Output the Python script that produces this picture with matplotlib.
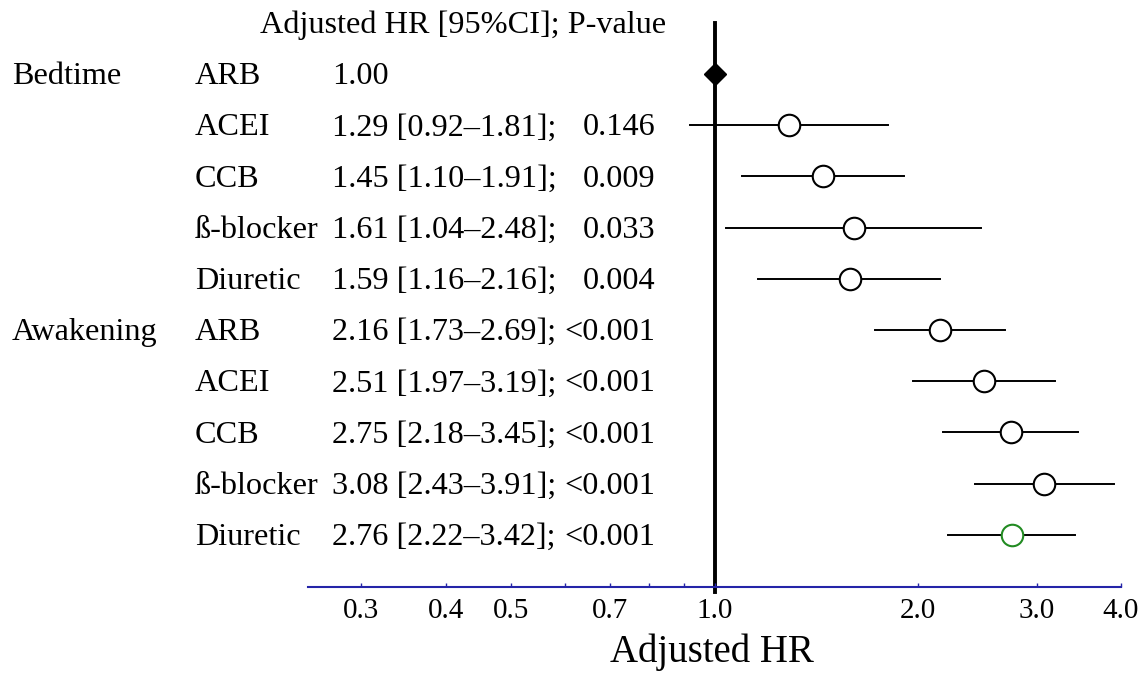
import matplotlib
matplotlib.use("Agg")
import matplotlib.pyplot as plt
import matplotlib.transforms as mtransforms
from matplotlib.ticker import NullFormatter

plt.rcParams['font.family'] = ['Liberation Serif', 'DejaVu Serif']

# data
groups = ['Bedtime', '', '', '', '', 'Awakening', '', '', '', '']
drugs = ['ARB', 'ACEI', 'CCB', 'ß-blocker', 'Diuretic',
         'ARB', 'ACEI', 'CCB', 'ß-blocker', 'Diuretic']
hr = [1.00, 1.29, 1.45, 1.61, 1.59, 2.16, 2.51, 2.75, 3.08, 2.76]
lo = [None, 0.92, 1.10, 1.04, 1.16, 1.73, 1.97, 2.18, 2.43, 2.22]
hi = [None, 1.81, 1.91, 2.48, 2.16, 2.69, 3.19, 3.45, 3.91, 3.42]
pvals = ['', '0.146', '0.009', '0.033', '0.004',
         '<0.001', '<0.001', '<0.001', '<0.001', '<0.001']
tick_vals = [0.3, 0.4, 0.5, 0.7, 1.0, 2.0, 3.0, 4.0]
tick_labels = ['0.3', '0.4', '0.5', '0.7', '1.0', '2.0', '3.0', '4.0']
minor_vals = [0.6, 0.8, 0.9]

W, H = 1146, 674
fig = plt.figure(figsize=(W / 100, H / 100), dpi=100)
ax = fig.add_axes([308 / W, (H - 587) / H, 813 / W, 587 / H])
ax.set_xscale('log')
ax.set_xlim(0.25, 4.0)
ax.set_ylim(10.02, -1.445)

axis_blue = '#2424a8'
fs = 23.2
yoff = 0.2  # baseline offset so caps sit centred on the row

for i in range(len(hr)):
    if lo[i] is None:
        ax.plot(hr[i], i, marker='D', ms=11.5, color='black', zorder=4)
        continue
    ax.plot([lo[i], hi[i]], [i, i], color='black', lw=1.4, zorder=2)
    edge = 'forestgreen' if i == len(hr) - 1 else 'black'
    ax.plot(hr[i], i, marker='o', ms=15.5, mfc='white', mec=edge, mew=1.5, zorder=3)

# reference line at HR = 1
ax.plot([1, 1], [10.12, -1.0], color='black', lw=2.8, zorder=1, clip_on=False)

for s in ['top', 'left', 'right']:
    ax.spines[s].set_visible(False)
ax.spines['bottom'].set_color(axis_blue)
ax.spines['bottom'].set_linewidth(1.5)
ax.set_yticks([])
ax.set_xticks(tick_vals)
ax.set_xticklabels(tick_labels, fontsize=21)
ax.set_xticks(minor_vals, minor=True)
ax.xaxis.set_minor_formatter(NullFormatter())
ax.tick_params(axis='x', which='both', direction='in', length=3, width=1,
               color=axis_blue, pad=8)

# text columns to the left of the plot
tr = mtransforms.blended_transform_factory(fig.transFigure, ax.transData)
fig.text(260 / W, -1.0 + yoff, 'Adjusted HR [95%CI]; P-value', transform=tr,
         fontsize=fs, va='baseline')
for i in range(len(hr)):
    y = i + yoff
    if groups[i]:
        fig.text(12 / W, y, groups[i], transform=tr, fontsize=fs, va='baseline')
    fig.text(195 / W, y, drugs[i], transform=tr, fontsize=fs, va='baseline')
    if lo[i] is None:
        s = f'{hr[i]:.2f}'
    else:
        s = f'{hr[i]:.2f} [{lo[i]:.2f}–{hi[i]:.2f}];'
    fig.text(332 / W, y, s, transform=tr, fontsize=fs, va='baseline')
    if pvals[i]:
        fig.text(655 / W, y, pvals[i], transform=tr, fontsize=fs,
                 va='baseline', ha='right')

fig.text(712 / W, 1 - 652 / H, 'Adjusted HR', fontsize=28, ha='center', va='center')

fig.savefig('out.png', dpi=100)
